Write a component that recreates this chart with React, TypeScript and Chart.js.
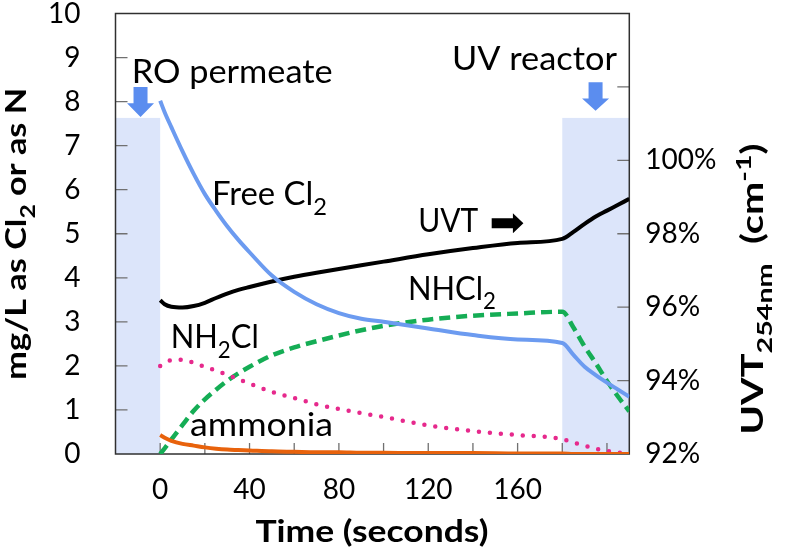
import React, { useEffect, useRef } from 'react';
import { Chart, registerables } from 'chart.js';

Chart.register(...registerables);

// ---------- data ----------
const times = [0, 2, 5, 10, 15, 20, 25, 30, 35, 40, 50, 60, 70, 80, 90, 100, 120, 140, 160, 180, 185, 190, 195, 200, 205, 210];
const freeCl2 = [8.02, 7.76, 7.42, 6.87, 6.36, 5.9, 5.52, 5.17, 4.86, 4.58, 4.05, 3.68, 3.4, 3.2, 3.07, 3.0, 2.85, 2.7, 2.6, 2.52, 2.25, 1.98, 1.79, 1.62, 1.46, 1.3];
const nhcl2 = [0, 0.13, 0.33, 0.66, 0.98, 1.24, 1.46, 1.66, 1.83, 1.98, 2.24, 2.42, 2.56, 2.69, 2.81, 2.91, 3.05, 3.14, 3.19, 3.23, 2.87, 2.44, 2.06, 1.66, 1.3, 0.97];
const nh2cl = [2.0, 2.07, 2.13, 2.14, 2.07, 1.98, 1.89, 1.8, 1.7, 1.6, 1.41, 1.27, 1.13, 1.02, 0.93, 0.84, 0.65, 0.52, 0.43, 0.34, 0.26, 0.19, 0.12, 0.07, 0.03, 0.01];
const ammonia = [0.43, 0.37, 0.3, 0.23, 0.19, 0.15, 0.12, 0.1, 0.09, 0.08, 0.06, 0.05, 0.04, 0.04, 0.03, 0.03, 0.02, 0.02, 0.01, 0.01, 0, 0, 0, 0, 0, 0];
const uvt = [96.19, 96.08, 96.01, 95.99, 96.03, 96.12, 96.25, 96.37, 96.47, 96.55, 96.7, 96.83, 96.94, 97.04, 97.14, 97.24, 97.44, 97.61, 97.75, 97.86, 98.05, 98.27, 98.47, 98.63, 98.79, 98.95];

const xTickLabels = [0, 40, 80, 120, 160];
const xTickMarks = [0, 20, 40, 60, 80, 100, 120, 140, 160, 180, 200];
const yTickMarks = [1, 2, 3, 4, 5, 6, 7, 8, 9];
const y1TickMarks = [94, 96, 98, 100, 102];
const shadeRanges = [[-20, 0], [180, 210]];
const shadeTop = 7.63;

// ---------- layout / style ----------
const W = 791;
const H = 548;
const FONT = 'Lato, "Open Sans", sans-serif';
const frameColor = '#303030';
const tickColor = '#707070';
const shadeColor = '#dce5fa';
const arrowBlue = '#5b8def';

type Part = { t: string; k?: 'sub' | 'sup' };

const notes: { parts: Part[]; x: number; y: number; w: number }[] = [
  { parts: [{ t: 'RO permeate' }], x: -12.75, y: 8.415, w: 201 },
  { parts: [{ t: 'Free Cl' }, { t: '2', k: 'sub' }], x: 23.2, y: 5.65, w: 115 },
  { parts: [{ t: 'UVT' }], x: 115.5, y: 5.05, w: 60 },
  { parts: [{ t: 'NHCl' }, { t: '2', k: 'sub' }], x: 110.9, y: 3.5, w: 88 },
  { parts: [{ t: 'NH' }, { t: '2', k: 'sub' }, { t: 'Cl' }], x: 4.7, y: 2.4, w: 88 },
  { parts: [{ t: 'ammonia' }], x: 13.35, y: 0.415, w: 143 },
  { parts: [{ t: 'UV reactor' }], x: 130.6, y: 8.72, w: 165 },
];

const downArrows = [
  { x: -8.8, top: 8.33, neck: 7.96, tip: 7.65 },
  { x: 194.9, top: 8.44, neck: 8.07, tip: 7.79 },
];
const uvtArrow = { x0: 148.4, x1: 162.6, y: 5.24 };

function partsWidth(ctx: CanvasRenderingContext2D, parts: Part[], size: number, weight: string) {
  let w = 0;
  for (const p of parts) {
    const s = p.k ? size * 0.72 : size;
    ctx.font = `${weight} ${s}px ${FONT}`;
    w += ctx.measureText(p.t).width;
  }
  return w;
}

function drawParts(
  ctx: CanvasRenderingContext2D,
  parts: Part[],
  size: number,
  weight: string,
  targetW: number,
  align: 'left' | 'center'
) {
  const nat = partsWidth(ctx, parts, size, weight);
  const sx = targetW / nat;
  ctx.save();
  ctx.scale(sx, 1);
  ctx.textAlign = 'left';
  ctx.textBaseline = 'alphabetic';
  ctx.fillStyle = '#000';
  let cx = align === 'center' ? -nat / 2 : 0;
  for (const p of parts) {
    const s = p.k ? size * 0.72 : size;
    ctx.font = `${weight} ${s}px ${FONT}`;
    const dy = p.k === 'sub' ? size * 0.3 : p.k === 'sup' ? -size * 0.4 : 0;
    ctx.fillText(p.t, cx, dy);
    cx += ctx.measureText(p.t).width;
  }
  ctx.restore();
}

const decoPlugin = {
  id: 'deco',
  beforeDatasetsDraw(chart: any) {
    const { ctx, chartArea: a, scales } = chart;
    const x = scales.x, y = scales.y, y1 = scales.y1;
    ctx.save();
    // shaded regions
    ctx.fillStyle = shadeColor;
    for (const [s, e] of shadeRanges) {
      const xa = x.getPixelForValue(s), xb = x.getPixelForValue(e);
      const yt = y.getPixelForValue(shadeTop), yb = y.getPixelForValue(0);
      ctx.fillRect(xa, yt, xb - xa, yb - yt);
    }
    // inward tick marks
    ctx.strokeStyle = tickColor;
    ctx.lineWidth = 1.3;
    ctx.beginPath();
    for (const v of xTickMarks) {
      const px = x.getPixelForValue(v);
      ctx.moveTo(px, a.bottom);
      ctx.lineTo(px, a.bottom - 11);
    }
    for (const v of yTickMarks) {
      const py = y.getPixelForValue(v);
      ctx.moveTo(a.left, py);
      ctx.lineTo(a.left + 12, py);
    }
    for (const v of y1TickMarks) {
      const py = y1.getPixelForValue(v);
      ctx.moveTo(a.right, py);
      ctx.lineTo(a.right - 12, py);
    }
    ctx.stroke();
    // frame
    ctx.strokeStyle = frameColor;
    ctx.lineWidth = 1.5;
    ctx.strokeRect(a.left, a.top, a.right - a.left, a.bottom - a.top);
    ctx.restore();
  },
  afterDraw(chart: any) {
    const { ctx, chartArea: a, scales } = chart;
    const x = scales.x, y = scales.y;
    ctx.save();
    // blue down arrows
    ctx.fillStyle = arrowBlue;
    for (const ar of downArrows) {
      const cx = x.getPixelForValue(ar.x);
      const t = y.getPixelForValue(ar.top), n = y.getPixelForValue(ar.neck), p = y.getPixelForValue(ar.tip);
      ctx.beginPath();
      ctx.moveTo(cx - 7, t);
      ctx.lineTo(cx + 7, t);
      ctx.lineTo(cx + 7, n);
      ctx.lineTo(cx + 13.5, n);
      ctx.lineTo(cx, p);
      ctx.lineTo(cx - 13.5, n);
      ctx.lineTo(cx - 7, n);
      ctx.closePath();
      ctx.fill();
    }
    // black UVT arrow
    {
      const x0 = x.getPixelForValue(uvtArrow.x0), x1 = x.getPixelForValue(uvtArrow.x1);
      const cy = y.getPixelForValue(uvtArrow.y);
      const hx = x1 - 10.5;
      ctx.fillStyle = '#000';
      ctx.beginPath();
      ctx.moveTo(x0, cy - 5);
      ctx.lineTo(hx, cy - 5);
      ctx.lineTo(hx, cy - 10);
      ctx.lineTo(x1, cy);
      ctx.lineTo(hx, cy + 10);
      ctx.lineTo(hx, cy + 5);
      ctx.lineTo(x0, cy + 5);
      ctx.closePath();
      ctx.fill();
    }
    // annotations
    for (const nt of notes) {
      ctx.save();
      ctx.translate(x.getPixelForValue(nt.x), y.getPixelForValue(nt.y));
      drawParts(ctx, nt.parts, 32, 'normal', nt.w, 'left');
      ctx.restore();
    }
    // axis titles
    ctx.save();
    ctx.translate((a.left + a.right) / 2 - 0.5, 541.5);
    drawParts(ctx, [{ t: 'Time (seconds)' }], 31, 'bold', 233, 'center');
    ctx.restore();

    ctx.save();
    ctx.translate(26, (a.top + a.bottom) / 2);
    ctx.rotate(-Math.PI / 2);
    drawParts(ctx, [{ t: 'mg/L as Cl' }, { t: '2', k: 'sub' }, { t: ' or as N' }], 29, 'bold', 292, 'center');
    ctx.restore();

    ctx.save();
    ctx.translate(763, 289);
    ctx.rotate(-Math.PI / 2);
    drawParts(
      ctx,
      [{ t: 'UVT' }, { t: '254nm', k: 'sub' }, { t: '  (cm' }, { t: '-1', k: 'sup' }, { t: ')' }],
      30,
      'bold',
      291,
      'center'
    );
    ctx.restore();
    ctx.restore();
  },
};

function series(vals: number[]) {
  return times.map((t, i) => ({ x: t, y: vals[i] }));
}

function noPad(s: any) {
  s.paddingTop = 0;
  s.paddingBottom = 0;
  s.paddingLeft = 0;
  s.paddingRight = 0;
}

export default function App() {
  const ref = useRef<HTMLCanvasElement | null>(null);
  useEffect(() => {
    if (!ref.current) return;
    const tickFont = { family: FONT, size: 28, lineHeight: 0.9 };
    const chart = new Chart(ref.current, {
      type: 'line',
      data: {
        datasets: [
          {
            label: 'ammonia',
            data: series(ammonia),
            borderColor: '#e8620c',
            borderWidth: 4,
            pointRadius: 0,
            cubicInterpolationMode: 'monotone',
            yAxisID: 'y',
          },
          {
            label: 'NH2Cl',
            data: series(nh2cl),
            borderColor: '#e6298c',
            borderWidth: 4.5,
            borderDash: [0, 11],
            borderCapStyle: 'round',
            pointRadius: 0,
            cubicInterpolationMode: 'monotone',
            yAxisID: 'y',
          },
          {
            label: 'Free Cl2',
            data: series(freeCl2),
            borderColor: '#6c9bf0',
            borderWidth: 4,
            pointRadius: 0,
            cubicInterpolationMode: 'monotone',
            yAxisID: 'y',
          },
          {
            label: 'NHCl2',
            data: series(nhcl2),
            borderColor: '#15ad55',
            borderWidth: 4.5,
            borderDash: [11, 6],
            pointRadius: 0,
            cubicInterpolationMode: 'monotone',
            yAxisID: 'y',
          },
          {
            label: 'UVT',
            data: series(uvt),
            borderColor: '#000000',
            borderWidth: 4,
            pointRadius: 0,
            cubicInterpolationMode: 'monotone',
            yAxisID: 'y1',
          },
        ],
      } as any,
      options: {
        responsive: false,
        animation: false,
        layout: { padding: { top: 13.5, left: 0, right: 0, bottom: 0 } },
        plugins: { legend: { display: false }, tooltip: { enabled: false } },
        scales: {
          x: {
            type: 'linear',
            min: -20,
            max: 210,
            position: 'bottom',
            grid: { display: false, drawTicks: false },
            border: { display: false },
            ticks: {
              font: tickFont,
              color: '#000',
              padding: 23,
              maxRotation: 0,
              autoSkip: false,
              callback: (v: any) => String(v),
            },
            afterBuildTicks: (s: any) => {
              s.ticks = xTickLabels.map((v) => ({ value: v }));
            },
            afterFit: (s: any) => {
              s.height = 94;
              noPad(s);
            },
          },
          y: {
            type: 'linear',
            min: 0,
            max: 10,
            position: 'left',
            grid: { display: false, drawTicks: false },
            border: { display: false },
            ticks: { stepSize: 1, font: tickFont, color: '#000', padding: 35 },
            afterFit: (s: any) => {
              s.width = 115.5;
              noPad(s);
            },
          },
          y1: {
            type: 'linear',
            min: 92,
            max: 104,
            position: 'right',
            grid: { display: false, drawTicks: false },
            border: { display: false },
            ticks: {
              stepSize: 2,
              font: tickFont,
              color: '#000',
              padding: 16,
              callback: (v: any) => (v <= 100 ? v + '%' : ''),
            },
            afterFit: (s: any) => {
              s.width = W - 629.3;
              noPad(s);
            },
          },
        },
      } as any,
      plugins: [decoPlugin],
    });
    return () => chart.destroy();
  }, []);
  return (
    <div style={{ position: 'fixed', left: 0, top: 0, width: W, height: H, background: '#fff' }}>
      <canvas ref={ref} width={W} height={H} style={{ display: 'block' }} />
    </div>
  );
}
